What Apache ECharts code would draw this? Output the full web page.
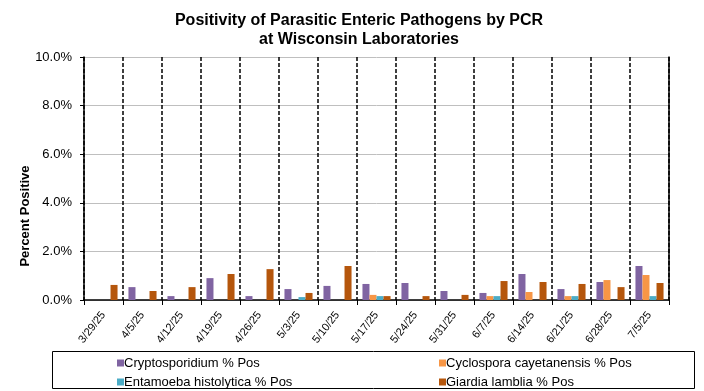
<!DOCTYPE html>
<html><head><meta charset="utf-8">
<script src="https://cdn.jsdelivr.net/npm/echarts@6/dist/echarts.min.js"></script>
<style>html,body{margin:0;padding:0;background:#fff}#c{width:704px;height:391px}</style>
</head><body><div id="c"></div>
<script>
var categories = ['3/29/25','4/5/25','4/12/25','4/19/25','4/26/25','5/3/25','5/10/25','5/17/25','5/24/25','5/31/25','6/7/25','6/14/25','6/21/25','6/28/25','7/5/25'];
var cryptosporidium = [0, 0.53, 0.16, 0.90, 0.16, 0.45, 0.58, 0.66, 0.70, 0.37, 0.29, 1.07, 0.45, 0.74, 1.40];
var cyclospora      = [0, 0, 0, 0, 0, 0, 0, 0.21, 0, 0, 0.16, 0.33, 0.16, 0.82, 1.03];
var entamoeba       = [0, 0, 0, 0, 0, 0.12, 0, 0.16, 0, 0, 0.16, 0, 0.16, 0, 0.16];
var giardia         = [0.62, 0.37, 0.53, 1.07, 1.27, 0.29, 1.40, 0.16, 0.16, 0.21, 0.78, 0.74, 0.66, 0.53, 0.70];
var yTicks = {min: 0, max: 10, interval: 2};

var FONT = 'Liberation Sans, Arial, sans-serif';
var names = ['Cryptosporidium % Pos','Cyclospora cayetanensis % Pos','Entamoeba histolytica % Pos','Giardia lamblia % Pos'];
var colors = ['#8064A2','#F79646','#4BACC6','#B5560C'];
var datas = [cryptosporidium, cyclospora, entamoeba, giardia];

var legendCommon = {orient: 'vertical', top: 356, height: 36, padding: 0, itemWidth: 7, itemHeight: 7, itemGap: 5,
  icon: 'rect', textStyle: {fontFamily: FONT, fontSize: 13, lineHeight: 14, color: '#000', padding: [0,0,0,-5]}};

var chart = echarts.init(document.getElementById('c'));
chart.setOption({
  animation: false,
  backgroundColor: '#fff',
  color: colors,
  title: {
    text: 'Positivity of Parasitic Enteric Pathogens by PCR\nat Wisconsin Laboratories',
    left: 359, top: 11, textAlign: 'center', padding: 0,
    textStyle: {fontFamily: FONT, fontSize: 16, fontWeight: 'bold', color: '#000', lineHeight: 19}
  },
  legend: [
    Object.assign({}, legendCommon, {data: [names[0], names[2]], left: 117}),
    Object.assign({}, legendCommon, {data: [names[1], names[3]], left: 439})
  ],
  graphic: [
    {type: 'rect', shape: {x: 52.5, y: 351.5, width: 642, height: 37}, style: {fill: 'none', stroke: '#000', lineWidth: 1}},
    {type: 'text', x: 25, y: 216, rotation: Math.PI/2, style: {text: 'Percent Positive', fontFamily: FONT, fontSize: 13, fontWeight: 'bold', fill: '#000', align: 'center', verticalAlign: 'middle'}}
  ],
  grid: {left: 84, right: 35, top: 57, bottom: 91, containLabel: false},
  xAxis: {
    type: 'category', data: categories,
    axisLine: {lineStyle: {color: '#000', width: 1.5}},
    axisTick: {show: true, length: 5, lineStyle: {color: '#000'}},
    axisLabel: {rotate: 52, margin: 13, fontFamily: FONT, fontSize: 11, color: '#000', interval: 0},
    splitLine: {show: true, interval: 0, lineStyle: {color: '#000', type: [4, 2], width: 1.5}}
  },
  yAxis: [
    {type: 'value', min: yTicks.min, max: yTicks.max, interval: yTicks.interval,
     axisLine: {show: true, lineStyle: {color: '#000', width: 1.5}},
     axisTick: {show: true, length: 4, lineStyle: {color: '#000'}},
     axisLabel: {margin: 12, fontFamily: FONT, fontSize: 13, color: '#000', formatter: function(v){return v.toFixed(1)+'%';}},
     splitLine: {show: true, lineStyle: {color: '#BFBFBF', width: 1}}},
    {type: 'value', min: yTicks.min, max: yTicks.max, interval: yTicks.interval, position: 'right',
     axisLine: {show: true, lineStyle: {color: '#000', width: 1.5}},
     axisTick: {show: false}, axisLabel: {show: false}, splitLine: {show: false}}
  ],
  series: datas.map(function(d, i){
    return {name: names[i], type: 'bar', data: d, barGap: '0%', barCategoryGap: '28%', itemStyle: {color: colors[i]}};
  })
});
</script></body></html>
